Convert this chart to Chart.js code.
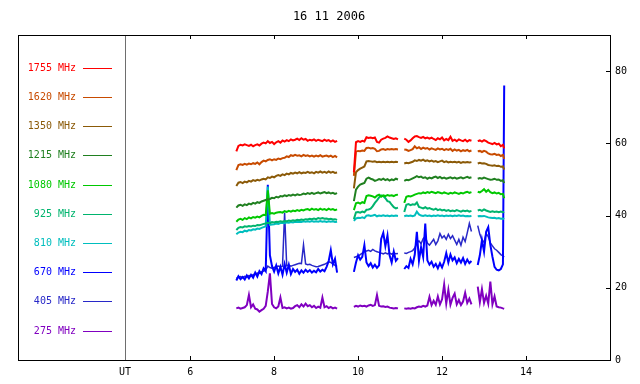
<!DOCTYPE html>
<html>
<head>
<meta charset="utf-8">
<script src="https://cdn.jsdelivr.net/npm/chart.js@4"></script>
<style>
  body { margin: 0; background: #fff; }
  canvas { display: block; }
</style>
</head>
<body>
<canvas id="radio" width="640" height="384"></canvas>
<script>
// ####################### DATA #######################

var chartTitle = '16 11 2006';
var utLabel = 'UT';
var utPos = 4.45;
var xTicks = [utPos, 6, 8, 10, 12, 14];
var yTicks = [0, 20, 40, 60, 80];

var freqs = ['1755 MHz', '1620 MHz', '1350 MHz', '1215 MHz', '1080 MHz', '925 MHz', '810 MHz', '670 MHz', '405 MHz', '275 MHz'];
var colors = ['#ff0000', '#c84b00', '#8b5a08', '#208020', '#00c800', '#00b46e', '#00bebe', '#0000ff', '#2828c8', '#8000c0'];

// UT hours, null rows mark the gaps between recordings
var hours = [
    7.10, 7.15, 7.20, 7.25, 7.30, 7.35, 7.40, 7.45, 7.50, 7.55,
    7.60, 7.65, 7.70, 7.75, 7.80, 7.85, 7.90, 7.95, 8.00, 8.05,
    8.10, 8.15, 8.20, 8.25, 8.30, 8.35, 8.40, 8.45, 8.50, 8.55,
    8.60, 8.65, 8.70, 8.75, 8.80, 8.85, 8.90, 8.95, 9.00, 9.05,
    9.10, 9.15, 9.20, 9.25, 9.30, 9.35, 9.40, 9.45, 9.50,
    9.70,
    9.90, 9.95, 10.00, 10.05, 10.10, 10.15, 10.20, 10.25, 10.30, 10.35,
    10.40, 10.45, 10.50, 10.55, 10.60, 10.65, 10.70, 10.75, 10.80, 10.85,
    10.90, 10.95,
    11.03,
    11.10, 11.15, 11.20, 11.25, 11.30, 11.35, 11.40, 11.45, 11.50, 11.55,
    11.60, 11.65, 11.70, 11.75, 11.80, 11.85, 11.90, 11.95, 12.00, 12.05,
    12.10, 12.15, 12.20, 12.25, 12.30, 12.35, 12.40, 12.45, 12.50, 12.55,
    12.60, 12.65, 12.70,
    12.78,
    12.85, 12.90, 12.95, 13.00, 13.05, 13.10, 13.15, 13.20, 13.25, 13.30,
    13.35, 13.40, 13.45, 13.48
];

var f1755 = [
    57.8, 59.3, 59.6, 59.4, 59.7, 59.5, 59.3, 59.6, 59.2, 59.5,
    59.7, 59.4, 59.9, 60.2, 60.0, 60.6, 60.1, 60.4, 59.8, 60.3,
    60.6, 60.2, 60.8, 60.5, 60.9, 60.6, 61.1, 60.8, 61.0, 61.3,
    60.9, 61.4, 61.0, 61.2, 60.7, 61.0, 60.8, 61.1, 60.7, 61.0,
    60.8, 60.6, 61.0, 60.7, 60.9, 60.5, 60.8, 60.4, 60.7,
    null,
    52.0, 60.3, 60.6, 60.4, 60.7, 60.5, 61.7, 61.5, 61.6, 61.4,
    61.6, 60.4, 60.2, 61.0, 61.3, 61.5, 61.9, 61.6, 61.4, 61.2,
    61.4, 61.1,
    null,
    61.3, 61.0, 60.4, 60.8, 61.4, 61.9, 62.0, 61.7, 61.5, 61.8,
    61.4, 61.6, 61.3, 61.6, 61.2, 60.9, 61.4, 61.1, 61.6, 60.8,
    61.2, 60.9, 61.8, 60.7, 61.0, 60.6, 61.1, 60.8, 60.6, 61.0,
    60.5, 60.9, 60.7,
    null,
    60.6, 60.8, 60.5, 60.9, 60.6, 60.2, 60.0, 59.8, 60.1, 59.7,
    59.9, 59.2, 59.6, 58.6
];

var f1620 = [
    52.6, 54.0, 54.2, 54.0, 54.3, 54.1, 54.4, 54.2, 54.5, 54.3,
    54.7, 54.2, 54.8, 55.2, 55.0, 55.4, 55.6, 55.3, 55.6, 55.4,
    55.8, 55.6, 55.9, 56.0, 56.4, 56.2, 56.7, 56.5, 56.8, 56.6,
    56.7, 56.4, 56.8, 56.5, 56.7, 56.4, 56.6, 56.3, 56.6, 56.4,
    56.7, 56.3, 56.5, 56.6, 56.3, 56.6, 56.2, 56.5, 56.1,
    null,
    51.0, 57.7, 57.9, 57.8, 58.0, 57.9, 58.7, 58.8, 58.6, 58.7,
    58.5, 57.8, 57.9, 58.3, 58.4, 58.2, 58.4, 58.3, 58.4, 58.3,
    58.4, 58.3,
    null,
    58.3, 58.2, 57.9, 58.1, 58.4, 59.2, 58.6, 58.9, 58.4, 58.8,
    58.5, 58.7, 58.3, 58.6, 58.4, 58.2, 58.6, 58.3, 58.5, 58.1,
    58.4, 58.2, 58.5, 57.9, 58.3, 58.0, 58.2, 57.8, 58.1, 57.9,
    58.2, 57.8, 58.0,
    null,
    57.8, 57.9, 57.6, 57.9, 57.7, 57.2, 57.0, 56.9, 57.1, 56.8,
    56.9, 56.5, 56.8, 55.7
];

var f1350 = [
    48.2, 49.1, 49.3, 49.0, 49.4, 49.2, 49.6, 49.4, 49.8, 49.6,
    49.9, 49.7, 50.0, 50.2, 50.0, 50.6, 50.4, 50.8, 50.6, 51.0,
    51.2, 51.0, 51.4, 51.2, 51.6, 51.4, 51.8, 51.6, 51.9, 51.7,
    52.0, 51.7, 51.9, 51.8, 52.1, 51.8, 52.0, 51.7, 52.1, 51.9,
    52.2, 51.9, 52.1, 51.8, 52.2, 51.9, 52.1, 51.8, 51.9,
    null,
    47.5, 52.0, 52.6, 53.0, 53.3, 53.6, 55.0, 55.1, 55.0, 54.9,
    55.0, 54.8, 54.9, 54.8, 54.9, 54.8, 54.9, 54.8, 54.9, 54.8,
    54.9, 54.8,
    null,
    54.4, 54.6, 54.5, 54.7, 54.9, 55.3, 55.1, 55.4, 55.2, 55.5,
    55.1, 55.3, 55.0, 55.2, 54.9, 55.1, 54.8, 55.0, 55.2, 54.8,
    55.0, 54.7, 54.9, 54.8, 54.9, 54.7, 54.9, 54.6, 54.8, 54.7,
    54.8, 54.7, 54.8,
    null,
    54.4, 54.6, 54.4, 54.5, 54.3, 54.0, 53.9, 53.8, 53.9, 53.7,
    53.8, 53.5, 53.6, 52.7
];

var f1215 = [
    42.2, 42.8, 43.0, 42.7, 43.1, 42.9, 43.3, 43.1, 43.5, 43.3,
    43.7, 43.5, 43.9, 44.1, 44.3, 44.5, 44.6, 44.9, 44.8, 45.2,
    45.0, 45.4, 45.3, 45.6, 45.4, 45.7, 45.5, 45.8, 45.6, 45.9,
    45.7, 45.8, 46.1, 45.9, 46.2, 46.0, 46.3, 46.0, 46.2, 46.4,
    46.1, 46.3, 46.5, 46.2, 46.4, 46.1, 46.3, 46.0, 46.2,
    null,
    44.0, 47.2, 48.0, 48.6, 48.8, 49.0, 50.2, 50.5, 50.2, 50.0,
    49.6, 49.8, 50.1, 49.9, 50.2, 49.8, 50.1, 49.7, 50.0, 49.8,
    50.2, 50.0,
    null,
    49.6, 49.9, 49.8, 50.0, 50.3, 50.6, 50.9, 50.6, 50.8, 50.4,
    50.6, 50.2, 50.5, 50.3, 50.6, 50.8, 50.4, 50.7, 50.3, 50.5,
    50.2, 50.4, 50.6, 50.3, 50.5, 50.2, 50.4, 50.6, 50.3, 50.5,
    50.7, 50.4, 50.6,
    null,
    50.2, 50.4, 50.2, 50.5, 50.3, 50.1, 49.9, 50.0, 50.2, 49.9,
    50.0, 49.6, 49.8, 49.0
];

var f1080 = [
    38.3, 38.9, 39.1, 38.8, 39.3, 39.0, 39.5, 39.2, 39.6, 39.4,
    39.7, 39.5, 39.9, 40.2, 40.1, 47.0, 40.5, 40.7, 40.5, 40.8,
    40.9, 41.0, 40.8, 41.2, 41.0, 41.3, 41.1, 41.4, 41.2, 41.5,
    41.3, 41.6, 41.4, 41.7, 41.8, 41.5, 41.9, 41.6, 41.8, 41.5,
    41.9, 41.6, 41.8, 41.5, 41.9, 41.6, 41.8, 41.5, 41.7,
    null,
    41.5, 43.4, 43.6, 43.3, 43.7, 43.5, 45.4, 45.6, 45.5, 45.3,
    45.0, 45.5, 45.8, 45.2, 45.6, 45.4, 45.7, 45.5, 45.6, 45.4,
    45.7, 45.8,
    null,
    43.5, 45.2, 45.4, 45.3, 45.5, 45.8, 46.0, 46.2, 46.1, 46.4,
    46.2, 46.5, 46.3, 46.6, 46.4, 46.2, 46.5, 46.3, 46.1, 46.4,
    46.2, 46.0, 46.3, 46.1, 46.4, 46.2, 46.0, 46.3, 46.1, 46.4,
    46.6, 46.3, 46.5,
    null,
    46.6, 46.4, 46.8, 47.3, 46.6, 47.1, 46.5, 46.2, 46.4, 46.1,
    46.3, 45.9, 46.0, 44.8
];

var f925 = [
    36.0, 36.6, 36.8, 36.7, 37.0, 36.9, 37.1, 37.0, 37.2, 37.1,
    37.4, 37.3, 37.5, 37.7, 37.8, 38.0, 37.9, 38.2, 38.1, 38.3,
    38.2, 38.4, 38.3, 38.5, 38.4, 38.6, 38.5, 38.7, 38.6, 38.8,
    38.7, 38.9, 38.8, 39.0, 38.9, 39.1, 39.0, 39.2, 39.0, 39.3,
    39.1, 39.3, 39.1, 39.2, 39.0, 39.1, 38.9, 39.0, 38.8,
    null,
    39.0, 40.9, 41.0, 40.8, 41.1, 40.9, 41.6, 41.7, 41.9, 42.6,
    43.5, 44.2, 45.0, 45.6, 45.4, 44.8, 44.0, 43.8, 43.0, 42.3,
    42.0, 42.2,
    null,
    41.0, 43.0, 43.2, 42.9, 43.1, 43.0, 43.6, 42.4, 42.2, 42.0,
    42.3, 41.9, 42.1, 41.8, 41.6, 41.9, 41.5, 41.7, 41.4, 41.6,
    41.3, 41.5, 41.2, 41.4, 41.2, 41.5, 41.3, 41.1, 41.4, 41.2,
    41.4, 41.1, 41.3,
    null,
    41.4, 41.6, 41.3, 41.7, 41.4, 41.2, 41.0, 41.2, 41.0, 41.1,
    40.9, 41.1, 40.9, 41.0
];

var f810 = [
    34.8, 35.3, 35.5, 35.4, 35.8, 35.6, 36.0, 35.9, 36.2, 36.1,
    36.4, 36.3, 36.6, 36.8, 37.0, 48.0, 37.4, 37.5, 37.6, 37.8,
    37.7, 37.9, 38.0, 37.9, 38.1, 38.0, 38.2, 38.1, 38.3, 38.2,
    38.3, 38.2, 38.4, 38.3, 38.4, 38.3, 38.5, 38.3, 38.4, 38.3,
    38.5, 38.3, 38.4, 38.2, 38.4, 38.3, 38.4, 38.2, 38.3,
    null,
    38.5, 39.2, 39.4, 39.3, 39.5, 39.3, 40.0, 40.1, 39.9, 40.0,
    40.2, 39.8, 40.0, 39.9, 40.1, 39.9, 40.0, 39.8, 40.0, 39.9,
    40.0, 39.9,
    null,
    39.8, 40.0, 39.9, 40.0, 39.8, 40.0, 41.1, 40.3, 40.0, 39.9,
    40.1, 39.9, 40.0, 39.8, 40.0, 39.9, 40.1, 39.9, 40.0, 39.8,
    40.0, 39.9, 40.0, 39.8, 40.0, 39.9, 40.1, 39.9, 40.0, 39.8,
    39.9, 39.8, 39.9,
    null,
    39.8, 39.9, 39.8, 39.9, 39.7, 39.5, 39.4, 39.3, 39.4, 39.2,
    39.3, 39.1, 39.2, 39.0
];

var f670 = [
    22.0, 23.2, 22.4, 23.0, 22.3, 23.4, 22.6, 23.6, 22.8, 24.2,
    23.1, 24.6, 23.8, 25.4, 24.6, 48.5, 29.0, 26.0, 24.5, 26.2,
    24.0, 25.8, 23.6, 26.6, 24.2, 26.4, 23.8, 25.2, 24.4, 25.0,
    23.9, 24.8, 24.2, 25.0, 24.4, 24.9, 24.2, 24.7, 24.3, 25.2,
    24.5, 25.0, 24.6, 25.8, 27.4, 30.4, 26.5, 28.0, 24.2,
    null,
    24.4, 27.0, 29.0, 27.8, 28.6, 31.8, 27.0, 26.0, 26.8, 25.6,
    26.4, 25.5, 26.2, 33.5, 35.2, 31.5, 34.5, 29.0, 27.0, 30.0,
    27.5, 28.2,
    null,
    25.2, 26.0, 25.5, 28.0, 26.5, 29.2, 35.5, 27.5, 31.2, 28.5,
    37.8, 27.6, 26.4, 27.2, 25.8, 26.6, 25.4, 26.8, 25.6, 27.2,
    29.6, 27.0, 29.2, 27.6, 28.4, 26.8, 28.0, 27.0, 28.2, 26.6,
    27.8, 26.8, 27.4,
    null,
    26.3, 29.0, 33.2, 30.0, 35.5, 36.8, 31.9, 28.6, 25.8, 25.0,
    24.8, 25.2, 26.5, 76.0
];

var f405 = [
    22.6, 22.9, 23.1, 22.8, 23.2, 23.0, 23.4, 23.3, 23.6, 23.8,
    24.1, 24.0, 24.4, 24.6, 24.9, 26.0, 25.6, 25.4, 25.6, 25.8,
    26.0, 25.8, 26.0, 40.8, 26.1, 26.3, 26.0, 26.2, 26.4, 26.6,
    26.8, 26.7, 31.9, 26.6, 26.4, 26.5, 26.2, 26.0, 25.8, 25.9,
    26.1, 26.3, 26.5, 26.8, 27.2, 27.0, 26.6, 26.2, 25.9,
    null,
    28.4, 28.6, 28.8, 29.2, 29.6, 30.0, 30.2, 30.4, 30.1, 30.6,
    30.2, 30.0, 29.8, 29.6, 29.4, 29.7, 29.4, 29.6, 29.3, 29.6,
    29.4, 29.5,
    null,
    29.6, 29.5, 29.8, 30.0, 30.3, 31.0, 32.4, 33.0, 32.2, 33.6,
    34.2, 32.4, 31.8, 32.6, 33.4, 32.0, 33.0, 35.0, 33.8, 34.4,
    33.4, 34.8, 33.6, 34.4, 33.2, 32.0, 33.4, 31.8, 34.0, 32.8,
    35.2, 37.8, 35.6,
    null,
    37.2, 34.8, 33.2, 32.6, 35.0, 34.2, 32.4, 31.6, 30.8, 30.4,
    29.8, 29.2, 28.8, 28.5
];

var f275 = [
    14.3, 14.5, 14.2, 14.4, 14.6, 15.2, 18.0, 14.6, 15.4, 14.2,
    14.0, 13.4, 13.8, 14.2, 15.0, 19.0, 24.0, 15.5, 14.6, 14.3,
    14.8, 17.3, 14.4, 14.6, 14.3, 14.5, 14.2, 14.4, 14.9, 15.2,
    14.6, 15.4, 14.8, 15.6, 14.9, 15.2, 14.6, 15.0, 14.4, 14.8,
    14.5, 17.3, 14.6, 14.9, 14.4, 14.7, 14.3, 14.5, 14.2,
    null,
    14.7, 15.0, 14.8, 15.1, 14.9, 15.0, 14.8, 15.1, 15.3, 15.0,
    15.2, 18.0, 15.0, 14.8, 14.9, 14.7, 14.8, 14.5, 14.4, 14.3,
    14.4, 14.3,
    null,
    14.3, 14.2, 14.3, 14.2, 14.4, 14.3, 14.6, 14.8, 14.7, 15.0,
    14.8, 15.1, 17.5, 15.2, 16.4, 15.3, 17.6, 15.4, 16.8, 20.9,
    15.6, 19.4, 15.3, 17.2, 18.4, 15.4, 16.6, 15.2, 16.2, 18.6,
    15.8, 17.0, 15.4,
    null,
    20.3, 16.0, 19.6, 15.8, 17.8, 15.6, 21.7, 15.4, 17.6, 14.8,
    14.6, 14.5, 14.3, 14.2
];

var series = [f1755, f1620, f1350, f1215, f1080, f925, f810, f670, f405, f275];

// ####################### CHART #######################

var monoFont = "'DejaVu Sans Mono', monospace";

var datasets = series.map(function (vals, i) {
    return {
        label: freqs[i],
        data: hours.map(function (h, j) { return {x: h, y: vals[j]}; }),
        borderColor: colors[i],
        backgroundColor: colors[i],
        borderWidth: (i == 8) ? 1.5 : 2,
        pointRadius: 0,
        fill: false,
        spanGaps: false
    };
});

// frame, UT separator, inward ticks and the legend on the left
var framePlugin = {
    id: 'frame',
    afterDraw: function (chart) {
        var ctx = chart.ctx;
        var a = chart.chartArea;
        var xs = chart.scales.x;
        var ys = chart.scales.y;
        ctx.save();

        var ux = Math.round(xs.getPixelForValue(utPos)) + 0.5;
        ctx.strokeStyle = '#6e6e6e';
        ctx.lineWidth = 1;
        ctx.beginPath();
        ctx.moveTo(ux, a.top);
        ctx.lineTo(ux, a.bottom);
        ctx.stroke();

        ctx.strokeStyle = '#000';
        ctx.beginPath();
        xTicks.forEach(function (v) {
            if (v == utPos) return;
            var px = Math.round(xs.getPixelForValue(v)) + 0.5;
            ctx.moveTo(px, a.bottom);
            ctx.lineTo(px, a.bottom - 4);
            ctx.moveTo(px, a.top);
            ctx.lineTo(px, a.top + 4);
        });
        yTicks.forEach(function (v) {
            var py = Math.round(ys.getPixelForValue(v)) + 0.5;
            ctx.moveTo(a.right, py);
            ctx.lineTo(a.right - 4, py);
        });
        ctx.stroke();

        ctx.strokeRect(Math.round(a.left) + 0.5, Math.round(a.top) + 0.5,
            Math.round(a.right - a.left), Math.round(a.bottom - a.top));

        ctx.font = '10px ' + monoFont;
        ctx.textAlign = 'right';
        ctx.textBaseline = 'middle';
        chart.data.datasets.forEach(function (ds, i) {
            var y = Math.round(67.7 + i * 29.2) + 0.5;
            ctx.fillStyle = ds.borderColor;
            ctx.fillText(ds.label, 76, y);
            ctx.strokeStyle = ds.borderColor;
            ctx.lineWidth = 1;
            ctx.beginPath();
            ctx.moveTo(83, y);
            ctx.lineTo(112, y);
            ctx.stroke();
        });
        ctx.restore();
    }
};

var chart = new Chart(document.getElementById('radio'), {
    type: 'line',
    data: {datasets: datasets},
    plugins: [framePlugin],
    options: {
        responsive: false,
        animation: false,
        events: [],
        devicePixelRatio: 1,
        layout: {padding: {left: 18, right: 0, top: 0, bottom: 0}},
        plugins: {
            legend: {display: false},
            tooltip: {enabled: false},
            title: {
                display: true,
                text: chartTitle,
                color: '#000',
                font: {family: monoFont, size: 12, weight: 'normal', lineHeight: '14px'},
                padding: {top: 10, bottom: 11}
            }
        },
        scales: {
            x: {
                type: 'linear',
                min: 1.9,
                max: 16,
                grid: {display: false, drawTicks: false},
                border: {display: false},
                afterBuildTicks: function (scale) {
                    scale.ticks = xTicks.map(function (v) { return {value: v}; });
                },
                afterFit: function (scale) { scale.height = 24; },
                ticks: {
                    autoSkip: false,
                    maxRotation: 0,
                    padding: 6,
                    color: '#000',
                    font: {family: monoFont, size: 10},
                    callback: function (v) { return v == utPos ? utLabel : v; }
                }
            },
            y: {
                position: 'right',
                min: 0,
                max: 90,
                grid: {display: false, drawTicks: false},
                border: {display: false},
                afterBuildTicks: function (scale) {
                    scale.ticks = yTicks.map(function (v) { return {value: v}; });
                },
                afterFit: function (scale) { scale.width = 30; },
                ticks: {
                    padding: 5,
                    color: '#000',
                    font: {family: monoFont, size: 10}
                }
            }
        }
    }
});
</script>
</body>
</html>
